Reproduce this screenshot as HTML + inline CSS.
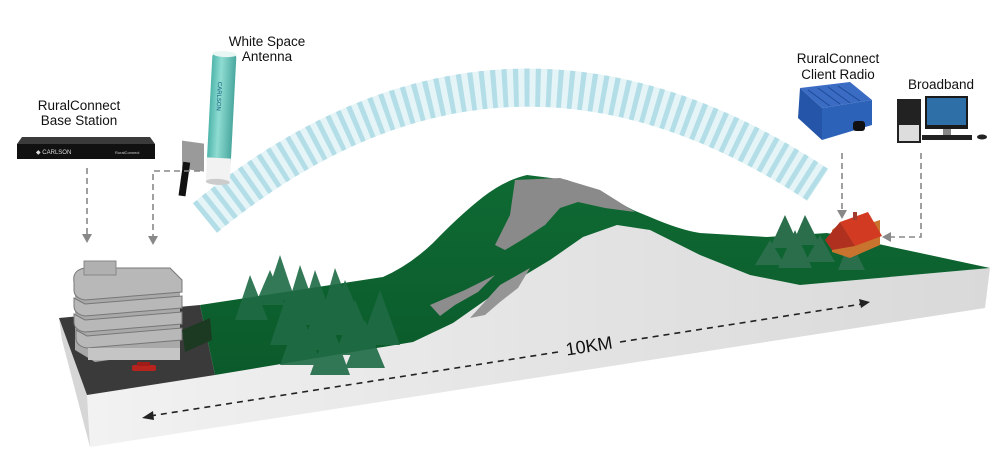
<!DOCTYPE html>
<html><head><meta charset="utf-8"><style>
body{margin:0;background:#fff;}
svg{display:block;font-family:"Liberation Sans",sans-serif;}
</style></head><body>
<svg width="1000" height="465" viewBox="0 0 1000 465" xmlns="http://www.w3.org/2000/svg">
<defs>
<linearGradient id="front" x1="0" y1="0" x2="1" y2="0"><stop offset="0" stop-color="#f2f2f2"/><stop offset="0.5" stop-color="#e4e4e4"/><stop offset="1" stop-color="#d9d9d9"/></linearGradient>
<linearGradient id="green" x1="0" y1="0" x2="0" y2="1"><stop offset="0" stop-color="#0f6a33"/><stop offset="1" stop-color="#0b5a2b"/></linearGradient>
<linearGradient id="ant" x1="0" y1="0" x2="1" y2="0"><stop offset="0" stop-color="#4fb5ab"/><stop offset="0.4" stop-color="#8fdcd2"/><stop offset="1" stop-color="#4aa89f"/></linearGradient>
</defs>

<polygon points="87,395 215,375 413,342 453,323 500,290 550,260 583,237 617,225 650,230 700,255 750,275 800,285 990,268 985,308 90,447" fill="url(#front)"/>
<polygon points="59,318 87,395 90,447 62,340" fill="#d6d6d6"/>
<polygon points="59,318 200,305 215,375 87,395" fill="#3a3a3a"/>
<path d="M200,305 L383,277 Q410,265 433,243 Q460,215 483,197 Q505,180 527,175 L567,180 Q600,192 633,210 Q650,217 650,217 Q680,230 700,233 L767,237 L827,233 L990,268 L800,285 L750,275 L700,255 L650,230 L617,225 L583,237 L550,260 L500,290 L453,323 L413,342 L215,375 Z" fill="url(#green)"/>
<path d="M515,180 L560,178 L600,190 L635,212 L605,208 L578,202 L560,208 L545,225 L525,238 L505,250 L495,245 L510,215 Z" fill="#8a8a8a"/>
<path d="M430,305 L465,290 L495,275 L478,292 L455,305 L440,316 Z" fill="#8d8d8d"/>
<path d="M500,285 L530,268 L518,288 L500,302 L485,315 L470,318 Z" fill="#959595"/>
<g fill="#1f6b45" opacity="0.9">
<polygon points="280,255 295,300 265,300"/><polygon points="250,275 268,320 235,320"/><polygon points="300,265 318,315 285,315"/>
<polygon points="315,270 335,325 298,325"/><polygon points="335,268 355,320 320,320"/><polygon points="345,280 368,335 325,335"/>
<polygon points="290,285 312,345 270,345"/><polygon points="320,300 342,350 300,350"/><polygon points="355,300 378,355 335,355"/>
<polygon points="380,290 400,345 360,345"/><polygon points="300,310 322,365 280,365"/><polygon points="330,320 350,375 310,375"/>
<polygon points="365,320 385,368 345,368"/><polygon points="270,270 285,305 255,305"/>
</g>
<g fill="#2a6e4c">
<polygon points="785,215 800,248 770,248"/><polygon points="805,215 820,245 792,245"/><polygon points="770,240 785,265 755,265"/>
<polygon points="795,230 812,268 778,268"/><polygon points="820,235 835,262 805,262"/><polygon points="850,240 865,270 838,270"/>
</g>
<polygon points="832,230 842,222 855,228 880,220 880,245 850,258 832,252" fill="#c8742e"/>
<polygon points="840,222 868,212 882,236 855,246" fill="#d23a22"/>
<polygon points="825,240 840,222 855,246 832,250" fill="#b03020"/>
<rect x="853" y="212" width="4" height="8" fill="#a03c30"/>
<g>
<polygon points="75,282 170,270 180,282 180,350 95,362 75,350" fill="#a9a9a9"/>
<g fill="#b8b8b8" stroke="#777" stroke-width="1">
<path d="M74,282 Q72,270 85,268 L170,268 L182,280 L182,292 L85,300 Q74,298 74,290 Z"/>
<path d="M74,298 L85,304 L182,296 L182,308 L85,316 Q74,314 74,306 Z"/>
<path d="M74,314 L85,320 L182,312 L182,324 L85,332 Q74,330 74,322 Z"/>
<path d="M76,330 L87,336 L182,328 L182,340 L87,348 Q76,346 76,338 Z"/>
</g>
<rect x="84" y="261" width="32" height="14" fill="#b0b0b0" stroke="#888"/>
<polygon points="182,330 210,318 212,340 185,352" fill="#1c3a22"/>
<rect x="88" y="348" width="92" height="12" fill="#c5c5c5"/>
<rect x="132" y="365" width="24" height="6" rx="2" fill="#b8231d"/>
<rect x="137" y="362" width="13" height="4" rx="1" fill="#a01c18"/>
</g>

<path d="M205,218 Q500,-25 818,185" fill="none" stroke="#d8eff4" stroke-width="38"/>
<path d="M205,218 Q500,-25 818,185" fill="none" stroke="#93d0dd" stroke-width="38" stroke-dasharray="5 6"/>
<path d="M205,218 Q500,-25 818,185" fill="none" stroke="#fff" stroke-width="38" stroke-opacity="0.3"/>

<polygon points="22,137 150,137 155,144 17,144" fill="#3b3b3b"/>
<rect x="17" y="144" width="138" height="15" fill="#111"/>
<text x="36" y="154" font-size="6" fill="#ddd">◆ CARLSON</text>
<text x="115" y="154" font-size="4" fill="#ccc">RuralConnect</text>
<rect x="182" y="142" width="22" height="28" fill="#9a9a9a" transform="skewY(8)" transform-origin="192 156"/>
<rect x="181" y="162" width="7" height="34" fill="#111" transform="rotate(8 184 178)"/>
<g transform="rotate(3 221 120)">
<rect x="209" y="53" width="24" height="112" rx="4" fill="url(#ant)"/>
<ellipse cx="221" cy="54" rx="12" ry="3" fill="#e8f6f4"/>
<rect x="209" y="158" width="24" height="24" fill="#f2f2f2"/>
<ellipse cx="221" cy="182" rx="12" ry="3" fill="#ccc"/>
<text x="0" y="0" font-size="6" fill="#0e5a7a" transform="translate(216,82) rotate(90)">CARLSON</text>
</g>
<polygon points="800,88 850,82 872,100 822,108" fill="#3a6cc4"/>
<polygon points="800,88 822,108 822,140 798,118" fill="#2455a8"/>
<polygon points="822,108 872,100 872,125 822,140" fill="#2c62b8"/>
<g stroke="#1d4a99" stroke-width="1"><line x1="808" y1="90" x2="830" y2="106"/><line x1="818" y1="88" x2="840" y2="104"/><line x1="828" y1="87" x2="850" y2="103"/><line x1="838" y1="86" x2="860" y2="101"/></g>
<rect x="853" y="121" width="12" height="10" rx="3" fill="#111"/>
<rect x="897" y="99" width="24" height="44" fill="#222"/>
<rect x="899" y="125" width="20" height="16" fill="#ddd"/>
<rect x="925" y="96" width="43" height="33" fill="#1a1a1a"/>
<rect x="927" y="98" width="39" height="27" fill="#2f6fa8"/>
<rect x="943" y="129" width="8" height="6" fill="#888"/>
<rect x="922" y="135" width="50" height="5" fill="#222"/>
<ellipse cx="982" cy="137" rx="5" ry="2.5" fill="#222"/>

<g font-size="13.5" fill="#111" text-anchor="middle">
<text x="79" y="110">RuralConnect</text><text x="79" y="125">Base Station</text>
<text x="267" y="46">White Space</text><text x="267" y="61">Antenna</text>
<text x="838" y="63">RuralConnect</text><text x="838" y="79">Client Radio</text>
<text x="941" y="89">Broadband</text>
</g>

<g stroke="#888" stroke-width="1.6" stroke-dasharray="6 4" fill="none">
<path d="M87,168 V236"/>
<path d="M200,171 H153 V238"/>
<path d="M842,153 V212"/>
<path d="M921,153 V237 H890"/>
</g>
<g fill="#888">
<polygon points="82,234 92,234 87,243"/>
<polygon points="148,236 158,236 153,245"/>
<polygon points="837,210 847,210 842,219"/>
<polygon points="891,232 891,242 882,237"/>
</g>

<g stroke="#222" stroke-width="1.6" stroke-dasharray="6 5" fill="none">
<path d="M150,416 L558,352"/>
<path d="M620,342 L862,304"/>
</g>
<polygon points="142,418 153,411 154,420" fill="#222"/>
<polygon points="870,302 859,299 861,308" fill="#222"/>
<text x="589" y="352" font-size="18" fill="#111" text-anchor="middle" transform="rotate(-9 589 346)">10KM</text>
</svg>
</body></html>
